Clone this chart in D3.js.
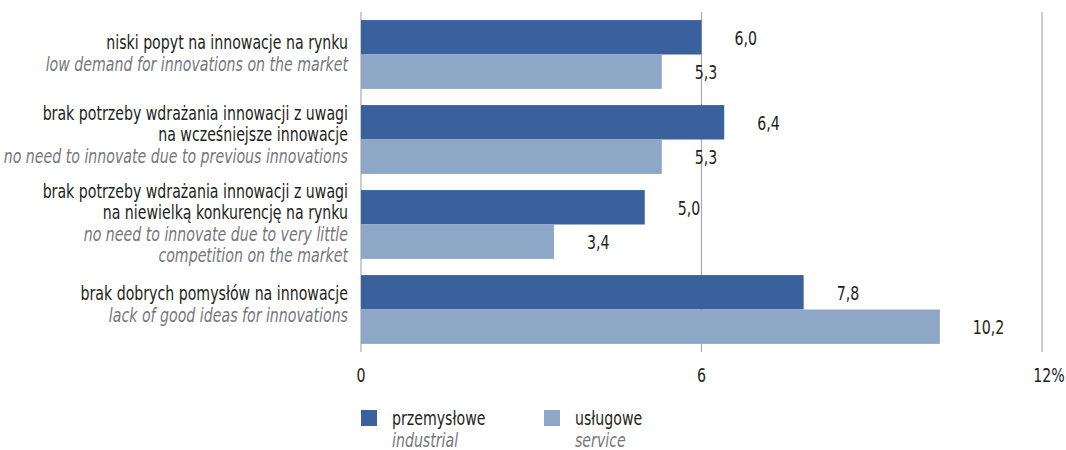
<!DOCTYPE html>
<html>
<head>
<meta charset="utf-8">
<script src="https://cdn.jsdelivr.net/npm/d3@7"></script>
<style>
  html, body { margin: 0; padding: 0; background: #fff; }
  svg { display: block; }
  text { font-family: "DejaVu Sans Condensed", "Liberation Sans Narrow", sans-serif; }
</style>
</head>
<body>
<svg id="chart" width="1066" height="450"></svg>
<script>
// Reasons for not innovating, share of enterprises (%)
const categoriesPl = [
  ["niski popyt na innowacje na rynku"],
  ["brak potrzeby wdrażania innowacji z uwagi", "na wcześniejsze innowacje"],
  ["brak potrzeby wdrażania innowacji z uwagi", "na niewielką konkurencję na rynku"],
  ["brak dobrych pomysłów na innowacje"]
];
const categoriesEn = [
  ["low demand for innovations on the market"],
  ["no need to innovate due to previous innovations"],
  ["no need to innovate due to very little", "competition on the market"],
  ["lack of good ideas for innovations"]
];
const industrial = [6.0, 6.4, 5.0, 7.8];
const service = [5.3, 5.3, 3.4, 10.2];
const tickValues = [0, 6, 12];
const seriesPl = ["przemysłowe", "usługowe"];
const seriesEn = ["industrial", "service"];

const colors = ["#3a619e", "#8ea7c7"];
const ink = "#231f20", grey = "#76777a";
const fontSize = 19.8, squeeze = 0.795;   // condensed look
const svg = d3.select("#chart");

const x = d3.scaleLinear().domain([0, 12]).range([361, 1042]);
const y = d3.scaleBand().domain(d3.range(categoriesPl.length))
  .range([12, 352]).paddingInner(0.19).paddingOuter(0.095);
const ySub = d3.scaleBand().domain([0, 1]).range([0, y.bandwidth()]);

const fmt = v => d3.format(".1f")(v).replace(".", ",");

// places a horizontally condensed text at (px, py)
function label(sel, px, py) {
  return sel
    .attr("transform", (d, i) => `translate(${px(d, i)},${py(d, i)}) scale(${squeeze},1)`)
    .attr("font-size", fontSize)
    .attr("dominant-baseline", "middle");
}

// vertical grid lines (0 doubles as the category axis)
svg.append("g").selectAll("line").data(tickValues).join("line")
  .attr("x1", d => x(d)).attr("x2", d => x(d))
  .attr("y1", y.range()[0]).attr("y2", y.range()[1])
  .attr("stroke", "#ababab").attr("stroke-width", 1.2);

// bars with value labels
const groups = svg.append("g").selectAll("g").data(categoriesPl).join("g")
  .attr("transform", (d, i) => `translate(0,${y(i)})`);

groups.each(function (d, i) {
  const vals = [industrial[i], service[i]];
  const g = d3.select(this);
  g.selectAll("rect").data(vals).join("rect")
    .attr("x", x(0))
    .attr("y", (v, j) => ySub(j))
    .attr("width", v => x(v) - x(0))
    .attr("height", ySub.bandwidth())
    .attr("fill", (v, j) => colors[j]);
  label(g.selectAll("text.val").data(vals).join("text").attr("class", "val"),
        v => x(v) + 33, (v, j) => ySub(j) + ySub.bandwidth() / 2 + 2)
    .attr("fill", ink)
    .text(fmt);
});

// category labels: Polish lines then English italic lines, centred on the group
const lineH = 21.5;
categoriesPl.forEach((pl, i) => {
  const lines = pl.map(t => ({ t, en: false })).concat(categoriesEn[i].map(t => ({ t, en: true })));
  const cy = y(i) + y.bandwidth() / 2 - (i === 1 || i === 3 ? 4 : 0);
  const top = cy - (lines.length - 1) * lineH / 2;
  label(svg.append("g").selectAll("text").data(lines).join("text"),
        () => 348, (d, k) => top + k * lineH)
    .attr("text-anchor", "end")
    .attr("font-style", d => d.en ? "italic" : "normal")
    .attr("fill", d => d.en ? grey : ink)
    .text(d => d.t);
});

// x-axis tick labels
label(svg.append("g").selectAll("text").data(tickValues).join("text"),
      (d, i) => x(d) + (i === tickValues.length - 1 ? 7 : 0), () => 376)
  .attr("text-anchor", "middle")
  .attr("fill", ink)
  .text((d, i) => i === tickValues.length - 1 ? d + "%" : d);

// legend
const legend = svg.append("g").selectAll("g").data(seriesPl).join("g")
  .attr("transform", (d, i) => `translate(${361 + i * 183},410)`);
legend.append("rect").attr("width", 16).attr("height", 16)
  .attr("fill", (d, i) => colors[i]);
label(legend.append("text"), () => 31, () => 9)
  .attr("fill", ink).text(d => d);
label(legend.append("text"), () => 31, () => 31)
  .attr("font-style", "italic").attr("fill", grey)
  .text((d, i) => seriesEn[i]);
</script>
</body>
</html>
